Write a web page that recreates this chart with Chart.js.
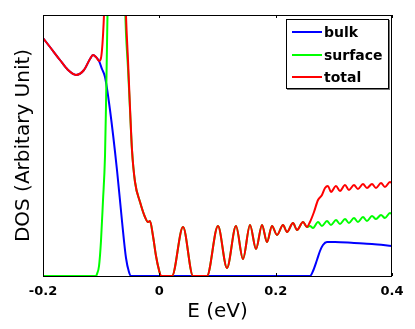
<!DOCTYPE html>
<html>
<head>
<meta charset="utf-8">
<script src="https://cdn.jsdelivr.net/npm/chart.js@4.4.1/dist/chart.umd.min.js"></script>
<style>
  body { margin: 0; background: #fff; }
  #wrap { position: relative; width: 415px; height: 329px; }
  #legend {
    position: absolute; left: 286px; top: 19px; width: 101px; height: 68px;
    border: 1px solid #000; background: #fff; box-shadow: 1px 1px 0 #777;
    font: bold 14px "DejaVu Sans", sans-serif; color: #000;
  }
  .row { position: absolute; left: 0; height: 20px; line-height: 20px; }
  .row i { position: absolute; left: 5px; top: 9px; width: 30px; height: 2px; }
  .row span { position: absolute; left: 37px; top: 0; white-space: nowrap; }
</style>
</head>
<body>
<div id="wrap">
  <canvas id="dos" width="415" height="329"></canvas>
  <div id="legend"></div>
</div>
<script>
// energy axis (eV) and DOS values
const bulkE = [-0.2, -0.188, -0.1708, -0.157, -0.1433, -0.1295, -0.1192, -0.114, -0.1089, -0.1037,
  -0.0986, -0.0934, -0.0848, -0.0728, -0.0642, -0.0573, -0.0522, -0.0487,
  0.259, 0.2642, 0.271, 0.2762, 0.2813, 0.2882, 0.302, 0.3346, 0.3656, 0.4];
const bulkDos = [238, 229, 216, 206, 201, 206, 217, 221, 219, 215,
  207, 199, 166, 106, 55, 18, 4, 0,
  0, 5, 16, 25, 31, 34, 34, 33, 32, 30];

const surfE = [-0.2, -0.1089, -0.1072, -0.1037, -0.1003, -0.0969, -0.0934, -0.0917, -0.09, -0.0883,
  -0.0745, -0.0608, -0.0573, -0.0539, -0.0504, -0.047, -0.0418, -0.0332, -0.0247, -0.0195,
  -0.0161, -0.0109, -0.0057, -0.0006, 0.0029, 0.0218, 0.0407, 0.0579, 0.0819, 0.1008,
  0.1163, 0.1318, 0.1438, 0.1559, 0.1662, 0.1765, 0.1851, 0.1937, 0.2023, 0.2126,
  0.2195, 0.2298, 0.2367, 0.247, 0.2538, 0.259, 0.2642, 0.2728, 0.2796, 0.2882,
  0.2951, 0.3037, 0.3106, 0.3192, 0.326, 0.3346, 0.3415, 0.3501, 0.357, 0.3656,
  0.3725, 0.3811, 0.3879, 0.3965, 0.4];
const surfDos = [0, 0, 2, 10, 35, 75, 120, 170, 230, 290,
  560, 300, 242, 208, 166, 126, 94, 74, 59, 54,
  55, 40, 20, 6, 0, 0, 49, 0, 0, 50,
  8, 50, 17, 51, 27, 51, 34, 50, 41, 51,
  44, 53, 46, 54, 49, 50, 48, 54, 50, 55,
  51, 56, 52, 57, 53, 58, 54, 59, 55, 60,
  57, 61, 58, 63, 62];

const totalE = [-0.2, -0.188, -0.1708, -0.157, -0.1433, -0.1295, -0.1192, -0.114, -0.1089, -0.1037,
  -0.1003, -0.0986, -0.0969, -0.0951, -0.0934, -0.0917, -0.0762, -0.0608, -0.0573, -0.0539,
  -0.0504, -0.047, -0.0418, -0.0332, -0.0247, -0.0195, -0.0161, -0.0109, -0.0057, -0.0006,
  0.0029, 0.0218, 0.0407, 0.0579, 0.0819, 0.1008, 0.1163, 0.1318, 0.1438, 0.1559,
  0.1662, 0.1765, 0.1851, 0.1937, 0.2023, 0.2126, 0.2195, 0.2298, 0.2367, 0.247,
  0.2538, 0.259, 0.2659, 0.2728, 0.2796, 0.2848, 0.2899, 0.2951, 0.3037, 0.3106,
  0.3192, 0.326, 0.3346, 0.3415, 0.3501, 0.357, 0.3656, 0.3725, 0.3811, 0.3879,
  0.3965, 0.4];
const totalDos = [238, 229, 216, 206, 201, 206, 217, 221, 219, 215,
  218, 226, 240, 262, 300, 340, 600, 330, 260, 216,
  168, 126, 94, 74, 59, 54, 55, 40, 20, 6,
  0, 0, 49, 0, 0, 50, 8, 50, 17, 51,
  27, 51, 34, 50, 41, 51, 44, 53, 46, 54,
  49, 54, 64, 76, 81, 88, 90, 84, 90, 85,
  91, 86, 91, 87, 92, 88, 92, 88, 93, 89,
  94, 93];

const seriesNames = ['bulk', 'surface', 'total'];
const seriesColors = ['#0000ff', '#00ff00', '#ff0000'];
const xTickValues = [-0.2, 0, 0.2, 0.4];
const xTickLabels = ['-0.2', '0', '0.2', '0.4'];

const toPoints = (xs, ys) => xs.map((x, i) => ({ x: x, y: ys[i] }));

// box round the plot plus small inward tick marks (top and bottom)
const frame = {
  id: 'frame',
  afterDraw(chart) {
    const { ctx, chartArea: a, scales } = chart;
    ctx.save();
    ctx.strokeStyle = '#000';
    ctx.lineWidth = 1;
    ctx.strokeRect(a.left + 0.5, a.top + 0.5, a.right - a.left - 1, a.bottom - a.top);
    ctx.beginPath();
    xTickValues.forEach(v => {
      const px = Math.round(scales.x.getPixelForValue(v)) + 0.5;
      ctx.moveTo(px, a.bottom); ctx.lineTo(px, a.bottom - 3);
      ctx.moveTo(px, a.top); ctx.lineTo(px, a.top + 3);
    });
    ctx.stroke();
    ctx.restore();
  }
};

new Chart(document.getElementById('dos'), {
  type: 'line',
  data: {
    datasets: [
      { label: seriesNames[0], data: toPoints(bulkE, bulkDos), borderColor: seriesColors[0], order: 3 },
      { label: seriesNames[1], data: toPoints(surfE, surfDos), borderColor: seriesColors[1], order: 2 },
      { label: seriesNames[2], data: toPoints(totalE, totalDos), borderColor: seriesColors[2], order: 1 }
    ].map(d => Object.assign(d, { borderWidth: 2, pointRadius: 0, fill: false, cubicInterpolationMode: 'monotone' }))
  },
  options: {
    responsive: false,
    animation: false,
    devicePixelRatio: 1,
    layout: { padding: { top: 15, right: 23, left: 0, bottom: 0 } },
    plugins: { legend: { display: false }, tooltip: { enabled: false } },
    scales: {
      x: {
        type: 'linear', min: -0.2, max: 0.4,
        grid: { display: false }, border: { display: false },
        afterFit: s => { s.height = 53; },
        afterBuildTicks: s => { s.ticks = xTickValues.map(v => ({ value: v })); },
        ticks: {
          autoSkip: false, maxRotation: 0, padding: 0, color: '#000',
          font: { family: 'DejaVu Sans', weight: 'bold', size: 13 },
          callback: (v, i) => xTickLabels[i]
        },
        title: {
          display: true, text: 'E (eV)', color: '#000',
          font: { family: 'DejaVu Sans', size: 20 }, padding: { top: 0, bottom: 5 }
        }
      },
      y: {
        min: 0, max: 261,
        grid: { display: false }, border: { display: false },
        ticks: { display: false },
        afterFit: s => { s.width = 43; },
        title: {
          display: true, text: 'DOS (Arbitary Unit)', color: '#000',
          font: { family: 'DejaVu Sans', size: 20 }, padding: { top: 12, bottom: 0 }
        }
      }
    }
  },
  plugins: [frame]
});

// legend box inside the top-right corner
const legend = document.getElementById('legend');
seriesNames.forEach((name, i) => {
  const row = document.createElement('div');
  row.className = 'row';
  row.style.top = (2 + i * 22.5) + 'px';
  row.innerHTML = '<i style="background:' + seriesColors[i] + '"></i><span>' + name + '</span>';
  legend.appendChild(row);
});
</script>
</body>
</html>
